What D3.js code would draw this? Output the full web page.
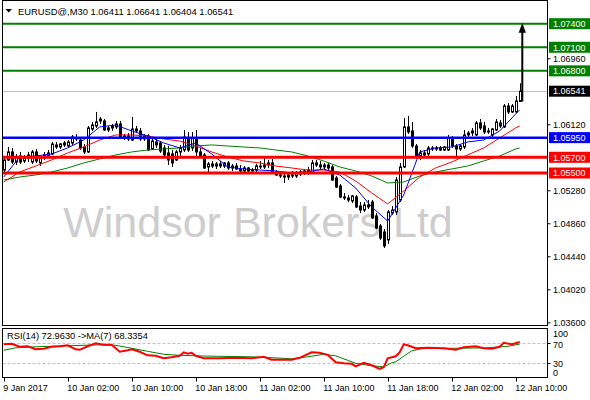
<!DOCTYPE html>
<html><head><meta charset="utf-8">
<script src="https://cdn.jsdelivr.net/npm/d3@7"></script>
<style>
html,body{margin:0;padding:0;background:#fff;}
svg{display:block;font-family:"Liberation Sans",Arial,sans-serif;}
</style></head><body>
<svg id="c" width="590" height="400"></svg>
<script>
const symbol = "EURUSD@,M30";
const open = [
1.05538,1.05666,1.05768,1.05640,1.05717,1.05653,1.05691,1.05640,1.05768,1.05628,
1.05691,1.05717,1.05742,1.05857,1.05831,1.05857,1.05844,1.05882,1.05946,1.05920,
1.05831,1.05768,1.06060,1.06098,1.06162,1.06162,1.06048,1.06073,1.06086,1.06124,
1.05946,1.05971,1.05920,1.06060,1.06035,1.05933,1.05971,1.05806,1.05895,1.05882,
1.05819,1.05755,1.05742,1.05666,1.05768,1.05793,1.05946,1.05819,1.05946,1.05768,
1.05730,1.05577,1.05615,1.05589,1.05615,1.05589,1.05628,1.05564,1.05589,1.05551,
1.05526,1.05564,1.05526,1.05538,1.05589,1.05577,1.05602,1.05628,1.05513,1.05475,
1.05462,1.05449,1.05475,1.05462,1.05487,1.05513,1.05538,1.05500,1.05628,1.05602,
1.05577,1.05602,1.05577,1.05437,1.05335,1.05195,1.05182,1.05144,1.05195,1.05080,
1.05029,1.05093,1.05131,1.04953,1.04826,1.04749,1.04648,1.04991,1.05004,1.05157,
1.05577,1.06086,1.06035,1.05844,1.05717,1.05755,1.05742,1.05819,1.05806,1.05819,
1.05793,1.05793,1.05946,1.05844,1.05806,1.05831,1.05984,1.06009,1.05984,1.06137,
1.06098,1.06022,1.05984,1.06048,1.06137,1.06086,1.06353,1.06277,1.06277,1.06411];
const high = [
1.05704,1.05831,1.05819,1.05742,1.05768,1.05730,1.05768,1.05793,1.05806,1.05704,
1.05768,1.05793,1.05895,1.05895,1.05882,1.05907,1.05920,1.05984,1.05997,1.05946,
1.05869,1.06098,1.06149,1.06277,1.06213,1.06187,1.06098,1.06124,1.06162,1.06162,
1.05997,1.06009,1.06213,1.06098,1.06073,1.05997,1.05997,1.05946,1.05933,1.05907,
1.05857,1.05844,1.05793,1.05793,1.05857,1.06048,1.06022,1.06022,1.06048,1.05819,
1.05755,1.05640,1.05653,1.05640,1.05653,1.05640,1.05653,1.05615,1.05628,1.05602,
1.05589,1.05577,1.05564,1.05615,1.05653,1.05691,1.05666,1.05679,1.05538,1.05513,
1.05513,1.05500,1.05526,1.05526,1.05538,1.05551,1.05577,1.05666,1.05666,1.05653,
1.05628,1.05628,1.05602,1.05462,1.05360,1.05246,1.05220,1.05220,1.05220,1.05131,
1.05131,1.05157,1.05157,1.04991,1.04851,1.04788,1.05029,1.05080,1.05449,1.05628,
1.06200,1.06226,1.06149,1.05869,1.05793,1.05793,1.05844,1.05844,1.05844,1.05844,
1.05844,1.05984,1.05971,1.05869,1.05869,1.06048,1.06035,1.06073,1.06162,1.06187,
1.06149,1.06073,1.06073,1.06187,1.06175,1.06378,1.06391,1.06378,1.06480,1.06641];
const low = [
1.05513,1.05653,1.05615,1.05602,1.05615,1.05628,1.05640,1.05615,1.05628,1.05589,
1.05666,1.05691,1.05730,1.05806,1.05806,1.05831,1.05819,1.05857,1.05907,1.05793,
1.05742,1.05755,1.06035,1.06073,1.06124,1.06035,1.06022,1.06035,1.06060,1.05933,
1.05920,1.05907,1.05907,1.06009,1.05907,1.05907,1.05780,1.05793,1.05819,1.05755,
1.05717,1.05602,1.05577,1.05653,1.05717,1.05768,1.05768,1.05780,1.05704,1.05691,
1.05551,1.05500,1.05564,1.05551,1.05564,1.05564,1.05538,1.05526,1.05538,1.05513,
1.05500,1.05500,1.05500,1.05513,1.05551,1.05551,1.05564,1.05487,1.05462,1.05437,
1.05373,1.05411,1.05437,1.05437,1.05462,1.05475,1.05475,1.05487,1.05577,1.05538,
1.05538,1.05538,1.05398,1.05309,1.05182,1.05157,1.05131,1.05118,1.05055,1.04991,
1.05004,1.05042,1.04915,1.04788,1.04648,1.04546,1.04597,1.04966,1.04966,1.05131,
1.05564,1.05997,1.05819,1.05691,1.05666,1.05704,1.05717,1.05780,1.05780,1.05780,
1.05780,1.05780,1.05819,1.05704,1.05780,1.05806,1.05946,1.05971,1.05971,1.06048,
1.05997,1.05997,1.05958,1.06035,1.06073,1.06073,1.06251,1.06264,1.06264,1.06404];
const close = [
1.05666,1.05768,1.05640,1.05704,1.05640,1.05691,1.05730,1.05768,1.05653,1.05691,
1.05730,1.05755,1.05869,1.05831,1.05869,1.05882,1.05895,1.05958,1.05933,1.05819,
1.05768,1.06073,1.06111,1.06149,1.06187,1.06048,1.06073,1.06098,1.06124,1.05946,
1.05971,1.05933,1.06060,1.06035,1.05933,1.05971,1.05793,1.05907,1.05857,1.05780,
1.05730,1.05666,1.05628,1.05768,1.05819,1.05958,1.05793,1.05946,1.05768,1.05717,
1.05564,1.05615,1.05589,1.05615,1.05589,1.05628,1.05564,1.05589,1.05551,1.05526,
1.05564,1.05526,1.05538,1.05589,1.05577,1.05602,1.05628,1.05500,1.05475,1.05462,
1.05449,1.05475,1.05462,1.05500,1.05513,1.05526,1.05500,1.05628,1.05602,1.05577,
1.05602,1.05564,1.05411,1.05322,1.05195,1.05182,1.05157,1.05208,1.05068,1.05029,
1.05093,1.05068,1.04928,1.04800,1.04673,1.04572,1.05004,1.05029,1.05411,1.05577,
1.06086,1.06022,1.05844,1.05717,1.05755,1.05730,1.05819,1.05806,1.05819,1.05793,
1.05831,1.05946,1.05844,1.05806,1.05844,1.05984,1.06009,1.06035,1.06137,1.06073,
1.06022,1.06035,1.06060,1.06149,1.06098,1.06353,1.06277,1.06353,1.06417,1.06541];

const maIdx = [0,4,8,12,16,20,24,28,32,36,40,44,48,52,56,60,64,68,72,76,80,84,88,92,96,100,104,108,112,116,120,124,128,129];
const maBlue = [1.05449,1.05704,1.05717,1.05742,1.05819,1.05920,1.06086,1.06111,1.06035,1.05971,1.05882,1.05819,1.05882,1.05742,1.05577,1.05551,1.05538,1.05526,1.05500,1.05513,1.05551,1.05475,1.05309,1.05068,1.04889,1.05220,1.05768,1.05819,1.05831,1.05895,1.05920,1.06035,1.06251,1.06302];
const maRed = [1.05386,1.05513,1.05589,1.05666,1.05755,1.05831,1.05920,1.05984,1.05984,1.05971,1.05933,1.05907,1.05844,1.05768,1.05704,1.05653,1.05628,1.05589,1.05564,1.05538,1.05538,1.05513,1.05398,1.05246,1.05106,1.05271,1.05449,1.05564,1.05640,1.05730,1.05819,1.05946,1.06073,1.06098];
const maGreen = [1.05411,1.05449,1.05475,1.05513,1.05564,1.05628,1.05679,1.05730,1.05768,1.05793,1.05806,1.05819,1.05844,1.05857,1.05844,1.05831,1.05819,1.05793,1.05768,1.05717,1.05653,1.05577,1.05526,1.05462,1.05373,1.05386,1.05462,1.05513,1.05551,1.05589,1.05653,1.05717,1.05806,1.05819];

const rsiIdx = [0,2,4,6,8,10,12,14,16,18,19,21,23,25,27,28,29,31,32,34,36,38,40,42,44,45,46,47,48,50,54,58,62,65,67,72,74,77,79,81,83,85,87,88,90,92,94,95,96,98,99,100,101,103,106,110,113,115,118,120,122,124,125,127,128,129];
const rsiVal = [68,69,63,64,58,59,63,64,66,58,57,64,70,67,67,60,53,56,58,53,46,45,40,42,45,52,49,51,45,40,40,41,40,43,37,37,41,52,51,47,32,30,29,24,31,26,19,22,40,44,52,68,66,60,61,60,57,62,64,60,59,63,71,68,70,72.963];
const rsiMaIdx = [0,3,8,16,24,28,32,36,40,44,50,62,70,72,76,80,83,86,88,92,95,97,98,100,102,105,112,121,126,129];
const rsiMaVal = [56,61,63,65,67,66,60,54,48,46,44.5,43,40,39,43,48,45,36,30,25,23,31,33,44,55,60,60,61,64,68.3354];

const timeTickBars = [0,16,32,48,64,80,96,112,128];
const timeTickLabels = ["9 Jan 2017","10 Jan 02:00","10 Jan 10:00","10 Jan 18:00","11 Jan 02:00","11 Jan 10:00","11 Jan 18:00","12 Jan 02:00","12 Jan 10:00"];
const priceTicks = [1.0360,1.0402,1.0444,1.0486,1.0528,1.0612,1.0696];
const greenLevels = [1.0740,1.0710,1.0680];
const blueLevels = [1.0595];
const redLevels = [1.0570,1.0550];
const currentPrice = 1.06541;
const rsiLevels = [70,30];
const rsiTickLabels = [100,70,30,0];
const arrowFrom = 1.06411, arrowTo = 1.0740;
const rsiCurrent = "72.9630", rsiMaCurrent = "68.3354";
const watermark = "Windsor Brokers Ltd";

const svg = d3.select("#c");
const FONT = 9;
const x = d3.scaleLinear().domain([0,129]).range([3.7,519.7]);
const y = d3.scaleLinear().domain([1.0360,1.0740]).range([322.3,23.7]);
const ry = d3.scaleLinear().domain([0,100]).range([378.3,328.3]);
const L = 2.5, R = 547.5, T = 0.5, B = 325.5, RT = 328.5, RB = 377.5;

svg.append("rect").attr("width",590).attr("height",400).attr("fill","#fff");
const defs = svg.append("defs");
defs.append("clipPath").attr("id","mainclip").append("rect").attr("x",L).attr("y",T).attr("width",R-L).attr("height",B-T);
defs.append("clipPath").attr("id","rsiclip").append("rect").attr("x",L).attr("y",RT).attr("width",R-L).attr("height",RB-RT);

const main = svg.append("g").attr("clip-path","url(#mainclip)");
// watermark
main.append("text").attr("x",258).attr("y",237).attr("text-anchor","middle")
  .attr("font-size",43).attr("fill","#cdcdcd").text(watermark);

// current price line
main.append("line").attr("x1",L).attr("x2",R).attr("y1",Math.round(y(currentPrice))+0.5).attr("y2",Math.round(y(currentPrice))+0.5)
  .attr("stroke","#c0c0c0").attr("stroke-width",1);

// candles
const idx = d3.range(open.length);
const cg = main.append("g");
idx.forEach(i=>{
  const cx = Math.round(x(i));
  cg.append("line").attr("x1",cx+0.5).attr("x2",cx+0.5).attr("y1",y(high[i])).attr("y2",y(low[i])).attr("stroke","#000").attr("stroke-width",1);
  const top = Math.min(y(open[i]),y(close[i])), bot = Math.max(y(open[i]),y(close[i]));
  if (close[i] >= open[i]) {
    cg.append("rect").attr("x",cx-0.5).attr("y",top).attr("width",2).attr("height",Math.max(bot-top,0.5))
      .attr("fill","#fff").attr("stroke","#000").attr("stroke-width",1);
  } else {
    cg.append("rect").attr("x",cx-1).attr("y",top-0.5).attr("width",3).attr("height",Math.max(bot-top+1,1)).attr("fill","#000");
  }
});

// moving averages
const maLine = d3.line().x(d=>x(d[0])).y(d=>y(d[1]));
[[maGreen,"#008000"],[maRed,"#ff0000"],[maBlue,"#0000ff"]].forEach(([arr,col])=>{
  main.append("path").attr("d",maLine(maIdx.map((k,j)=>[k,arr[j]]))).attr("fill","none").attr("stroke",col).attr("stroke-width",1);
});

// levels
function levels(arr,col,w){
  arr.forEach(v=>{
    main.append("line").attr("x1",L).attr("x2",R).attr("y1",y(v)).attr("y2",y(v)).attr("stroke",col).attr("stroke-width",w);
  });
}
levels(greenLevels,"#008000",2);
levels(blueLevels,"#0000ff",2.5);
levels(redLevels,"#ff0000",3);

// arrow
const ax = x(129)+2.6;
main.append("line").attr("x1",ax).attr("x2",ax).attr("y1",y(arrowFrom)).attr("y2",y(arrowTo)+8)
  .attr("stroke","#000").attr("stroke-width",2);
main.append("path").attr("d",`M${ax},${y(arrowTo)-1} L${ax-3.6},${y(arrowTo)+9} L${ax+3.6},${y(arrowTo)+9} Z`).attr("fill","#000");

// frames
svg.append("rect").attr("x",L).attr("y",T).attr("width",R-L).attr("height",B-T).attr("fill","none").attr("stroke","#000");
svg.append("rect").attr("x",L).attr("y",RT).attr("width",R-L).attr("height",RB-RT).attr("fill","none").attr("stroke","#000");

// right price axis
const yAxis = d3.axisRight(y).tickValues(priceTicks).tickFormat(d3.format(".5f")).tickSize(3);
const yg = svg.append("g").attr("transform",`translate(${R},0)`).call(yAxis);
yg.select(".domain").remove();
yg.selectAll("text").attr("x",5.5).attr("font-size",FONT).attr("font-family","'Liberation Sans',Arial,sans-serif").attr("fill","#000");

// level label boxes
function box(v,bg,fg){
  const cy = y(v);
  svg.append("rect").attr("x",549).attr("y",cy-5.5).attr("width",41).attr("height",11).attr("fill",bg);
  svg.append("text").attr("x",553).attr("y",cy+3.3).attr("font-size",FONT).attr("fill",fg).text(d3.format(".5f")(v));
}
greenLevels.forEach(v=>box(v,"#008000","#fff"));
blueLevels.forEach(v=>box(v,"#0000ff","#fff"));
redLevels.forEach(v=>box(v,"#ff0000","#fff"));
box(currentPrice,"#000","#fff");

// title
svg.append("path").attr("d","M5.5,9 L12,9 L8.75,12.5 Z").attr("fill","#000");
svg.append("text").attr("x",18).attr("y",14.5).attr("font-size",9.4).attr("fill","#000")
  .text(`${symbol}  ${d3.format(".5f")(open[129])} ${d3.format(".5f")(high[129])} ${d3.format(".5f")(low[129])} ${d3.format(".5f")(close[129])}`);

// RSI panel
const rsiG = svg.append("g").attr("clip-path","url(#rsiclip)");
rsiLevels.forEach(v=>{
  rsiG.append("line").attr("x1",L).attr("x2",R).attr("y1",Math.round(ry(v))+0.5).attr("y2",Math.round(ry(v))+0.5)
    .attr("stroke","#c0c0c0").attr("stroke-dasharray","3,2").attr("stroke-width",1);
});
const rLine = d3.line().x(d=>x(d[0])).y(d=>ry(d[1]));
rsiG.append("path").attr("d",rLine(rsiMaIdx.map((k,j)=>[k,rsiMaVal[j]]))).attr("fill","none").attr("stroke","#008000").attr("stroke-width",1);
rsiG.append("path").attr("d",rLine(rsiIdx.map((k,j)=>[k,rsiVal[j]]))).attr("fill","none").attr("stroke","#ff0000").attr("stroke-width",2);
svg.append("text").attr("x",7).attr("y",338.5).attr("font-size",9.3).attr("fill","#000")
  .text(`RSI(14) ${rsiCurrent}  ->MA(7) ${rsiMaCurrent}`);
const rdy = {100:5.7, 70:1, 30:0.3, 0:-5.8};
rsiTickLabels.forEach(v=>{
  svg.append("text").attr("x",553).attr("y",ry(v)+rdy[v]+3.2).attr("font-size",FONT).attr("fill","#000").text(v);
});
rsiLevels.forEach(v=>{
  svg.append("line").attr("x1",R).attr("x2",R+3).attr("y1",Math.round(ry(v))+0.5).attr("y2",Math.round(ry(v))+0.5).attr("stroke","#000");
});

// bottom time axis
const xAxis = d3.axisBottom(x).tickValues(timeTickBars).tickFormat((d,i)=>timeTickLabels[i]).tickSize(4);
const xg = svg.append("g").attr("transform",`translate(0,${RB})`).call(xAxis);
xg.select(".domain").remove();
xg.selectAll(".tick line").attr("transform","translate(0.3,0)");
xg.selectAll("text").attr("text-anchor","start").attr("x",-1).attr("y",7).attr("font-size",FONT)
  .attr("font-family","'Liberation Sans',Arial,sans-serif").attr("fill","#000");
</script>
</body></html>
